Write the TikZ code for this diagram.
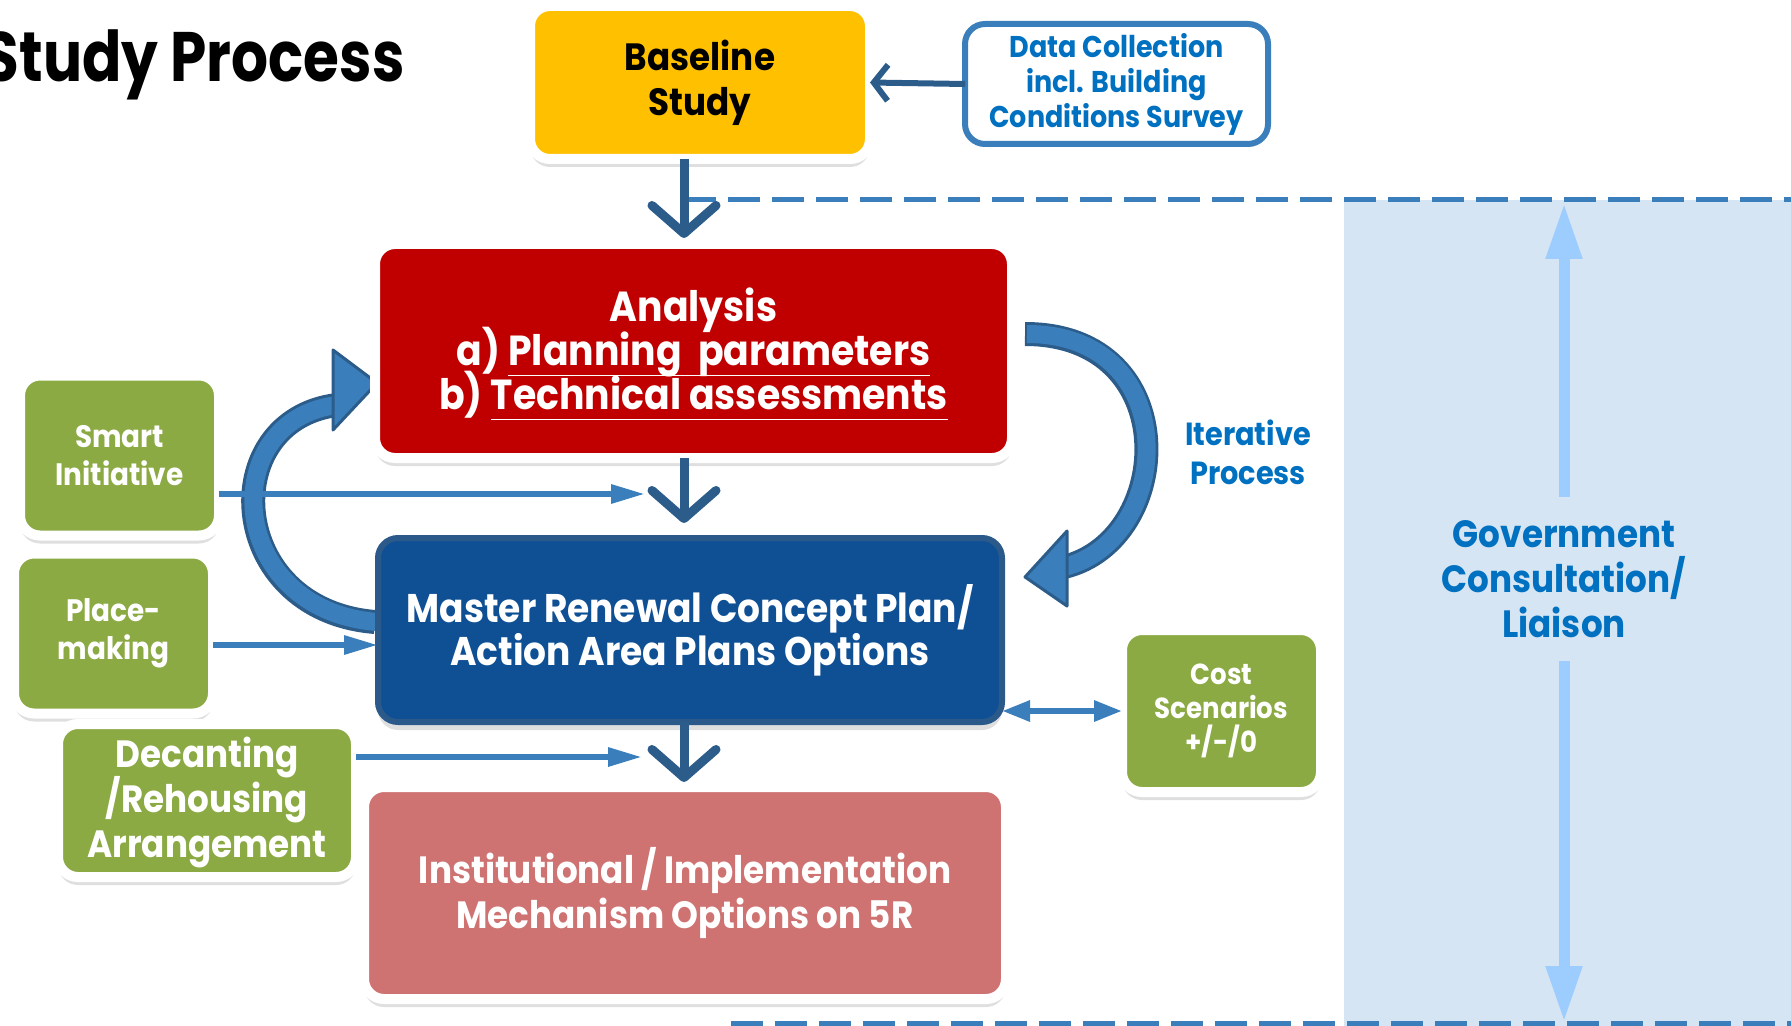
\documentclass[tikz,border=0pt]{standalone}
\usepackage{fontspec}
\setmainfont{Poppins}[FakeStretch=0.9]
\newfontfamily\titlefont{Poppins}[FakeStretch=0.83]
\usetikzlibrary{arrows.meta,calc,shadows}
\definecolor{baseyellow}{HTML}{FFC000}
\definecolor{anared}{HTML}{C00000}
\definecolor{masterblue}{HTML}{0F5095}
\definecolor{masteredge}{HTML}{2B5A8A}
\definecolor{instpink}{HTML}{CE7372}
\definecolor{leafgreen}{HTML}{8BAA44}
\definecolor{stemblue}{HTML}{2C5D8A}
\definecolor{feedblue}{HTML}{3A7EBB}
\definecolor{textblue}{HTML}{0070C0}
\definecolor{panelblue}{HTML}{D6E5F3}
\definecolor{govblue}{HTML}{9DCCFF}
\pgfdeclarelayer{back}
\pgfdeclarelayer{mid}
\pgfsetlayers{back,mid,main}
\newcommand{\setfs}[2]{\bfseries\fontsize{#1}{#2}\selectfont\lineskiplimit=-\maxdimen}
\newcommand{\uln}[1]{\underline{\smash{#1}\rule[-0.17em]{0pt}{0pt}}}

\begin{document}
\begin{tikzpicture}
  [
    x=0.5pt, y=-0.5pt,
    block/.style =
      {rounded corners=10pt, draw=white, line width=5pt, outer sep=0pt, inner sep=0pt,
       align=center, text=white,
       drop shadow={opacity=0.25, shadow xshift=0pt, shadow yshift=-4pt}},
    leaf/.style =
      {block, fill=leafgreen, minimum width=99.5pt, minimum height=80pt},
    stem/.style =
      {draw=stemblue, line width=4.5pt, -{Straight Barb[length=14pt, width=32pt, round]}},
    feed/.style =
      {draw=feedblue, line width=3pt, -{Triangle[length=17pt, width=9pt]}},
    loopedge/.style =
      {draw=stemblue, line width=12pt},
    loopbody/.style =
      {draw=feedblue, line width=9pt},
    loophead/.style =
      {draw=stemblue, fill=feedblue, line width=1.5pt, line join=round},
    govarrow/.style =
      {draw=govblue, line width=5.5pt, -{Triangle[length=28pt, width=17pt]}},
    dashline/.style =
      {draw=feedblue, line width=2.5pt, dash pattern=on 16pt off 6pt}
  ]
  \useasboundingbox (0,0) rectangle (1791,1026);

  \node [anchor=base east, inner sep=0pt, font=\titlefont\setfs{35}{40}] (tt) at (405,82) {Study Process};

  \node [block, fill=baseyellow, text=black, minimum width=170pt, minimum height=76.5pt,
         font=\setfs{19}{22.5}] (b) at (700,82.5) {Baseline\\Study};
  \node [draw=feedblue, line width=3pt, rounded corners=10pt, fill=white, outer sep=0pt,
         inner sep=0pt, minimum width=151.5pt, minimum height=60pt, align=center, text=textblue,
         font=\setfs{15}{17.5}] (dc) at (1116.5,84)
         {Data Collection\\incl. Building\\Conditions Survey};
  \node [block, fill=anared, minimum width=318.5pt, minimum height=107pt,
         font=\setfs{21}{22}] (a) at (693.5,351)
         {\rule{0pt}{20.5pt}Analysis\\a) \uln{Planning\ \ parameters}\\b) \uln{Technical assessments}};
  \node [block, fill=masterblue, draw=masteredge, line width=3pt, minimum width=312pt,
         minimum height=92pt, font=\setfs{20}{21.5}] (m) at (690,630)
         {Master Renewal Concept Plan/\\Action Area Plans Options};
  \node [block, fill=instpink, minimum width=321pt, minimum height=106pt,
         font=\setfs{19}{22.5}] (i) at (685,893)
         {Institutional / Implementation\\Mechanism Options on 5R};

  \node [leaf, font=\setfs{15.5}{19}] (s) at (119.5,455.5) {Smart\\Initiative};
  \node [leaf, font=\setfs{15.5}{19}] (p) at (113.5,633.5) {Place-\\making};
  \node [leaf, minimum width=149pt, minimum height=76.5pt,
         font=\setfs{19}{22.5}] (d) at (207,800.5)
         {\rule{0pt}{17.5pt}Decanting\\/Rehousing\\Arrangement};
  \node [leaf, minimum height=81pt, font=\setfs{14.5}{17}] (c) at (1221.5,711)
         {Cost\\Scenarios\\+/-/0};

  \node [align=center, text=textblue, font=\setfs{16}{19.5}] (it) at (1248,452)
         {Iterative\\Process};
  \node [align=center, text=textblue, inner sep=0pt, minimum height=82pt,
         font=\setfs{19}{22.5}] (g) at (1564,579)
         {Government\\Consultation/\\Liaison};

  \coordinate (spine) at (684,0);
  \coordinate (dt)    at (684,200);
  \coordinate (dtr)   at (1791,200);
  \coordinate (db)    at (731,1023);
  \coordinate (dbr)   at (1791,1023);
  \coordinate (gt)    at (1564,203);
  \coordinate (gb)    at (1564,1022);
  \coordinate (sj)    at (645,494);
  \coordinate (pj)    at (378,645);
  \coordinate (dj)    at (642,757);
  \coordinate (lt)    at ($(a.west)+(2,32)$);
  \coordinate (rt)    at ($(m.east)+(23,-53)$);

  \begin{pgfonlayer}{back}
    \fill[panelblue] (1344,200) rectangle (1791,1026);
  \end{pgfonlayer}

  \begin{pgfonlayer}{mid}
    \draw[loopedge] ($(m.west)+(-3,-8)$) .. controls (225,610) and (215,420) .. ($(lt)+(-40,22)$);
    \draw[loopbody] ($(m.west)+(-1,-8)$) .. controls (225,610) and (215,420) .. ($(lt)+(-40,22)$);
    \draw[loophead] (lt) -- ($(lt)+(-44,-33)$) -- ($(lt)+(-44,47)$) -- cycle;
    \draw[loopedge] ($(a.east)+(13,-17)$) .. controls (1185,334) and (1175,540) .. ($(rt)+(39,-10)$);
    \draw[loopbody] ($(a.east)+(15,-17)$) .. controls (1185,334) and (1175,540) .. ($(rt)+(39,-10)$);
    \draw[loophead] (rt) -- ($(rt)+(42,-46)$) -- ($(rt)+(42,29)$) -- cycle;
  \end{pgfonlayer}

  \draw[dashline] (dt) -- (dtr);
  \draw[dashline] (db) -- (dbr);

  \draw[stem, shorten >=3pt]   (b.south -| spine) -- (a.north -| spine);
  \draw[stem, shorten >=7.5pt] (a.south -| spine) -- (m.north -| spine);
  \draw[stem, shorten >=2.5pt] (m.south -| spine) -- (i.north -| spine);
  \draw[draw=stemblue, line width=3pt, -{Straight Barb[length=7pt, width=18pt]}] (dc.west) -- (b.east);

  \draw[feed] (s.east |- sj) -- (sj);
  \draw[feed] (p.east |- pj) -- (pj);
  \draw[feed] (d.east |- dj) -- (dj);
  \draw[feed, {Triangle[length=14pt, width=10pt]}-{Triangle[length=14pt, width=10pt]}]
    (m.east |- c.west) -- (c.west);

  \draw[govarrow] (g.north) -- (gt);
  \draw[govarrow] (g.south) -- (gb);

\end{tikzpicture}
\end{document}
